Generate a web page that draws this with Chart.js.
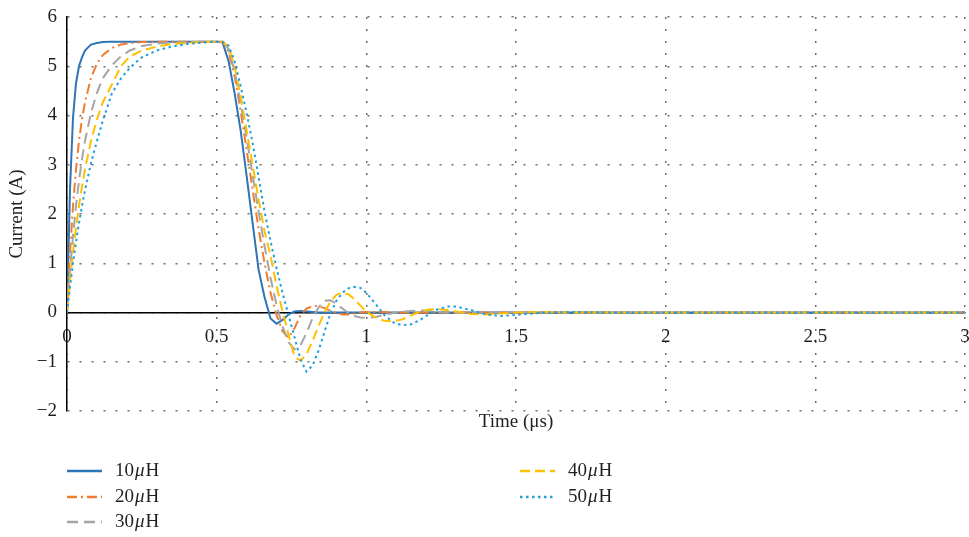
<!DOCTYPE html>
<html><head><meta charset="utf-8">
<script src="https://cdn.jsdelivr.net/npm/chart.js@4"></script>
<style>html,body{margin:0;padding:0;background:#fff;overflow:hidden}</style>
</head><body>
<canvas id="c" width="969" height="537"></canvas>
<script>
// time (µs)
const T = [0,0.01,0.02,0.03,0.04,0.05,0.06,0.08,0.10,0.12,0.15,0.18,0.21,0.25,0.30,0.35,0.40,0.45,0.50,
  0.52,0.54,0.56,0.58,0.60,0.62,0.64,0.66,0.68,0.70,0.72,0.74,0.76,0.78,0.80,0.82,0.84,0.86,0.88,0.90,0.92,0.94,0.96,0.98,1.00,
  1.03,1.06,1.09,1.12,1.15,1.18,1.21,1.24,1.27,1.30,1.35,1.40,1.45,1.50,1.60,1.70,1.80,2.00,2.50,3.00];
// current (A)
const L10 = [0,2.5,3.95,4.65,5.0,5.18,5.32,5.44,5.47,5.49,5.5,5.5,5.5,5.5,5.5,5.5,5.5,5.5,5.5,
  5.48,5.1,4.45,3.7,2.78,1.82,0.87,0.31,-0.12,-0.23,-0.15,-0.04,0.02,0.03,0.02,0.01,0,0,0,0,0,0,0,0,0,
  0,0,0,0,0,0,0,0,0,0,0,0,0,0,0,0,0,0,0,0];
const L20 = [0,1.22,2.16,2.9,3.48,3.92,4.27,4.76,5.05,5.23,5.37,5.44,5.47,5.49,5.5,5.5,5.5,5.5,5.5,
  5.5,5.3,4.8,4.1,3.3,2.5,1.7,1.0,0.4,-0.05,-0.38,-0.51,-0.32,-0.06,0.08,0.13,0.13,0.09,0.04,-0.01,-0.04,-0.04,-0.02,0,0.01,
  0.01,0.01,0,0,0,0,0,0,0,0,0,0,0,0,0,0,0,0,0,0];
const L30 = [0,0.84,1.56,2.16,2.68,3.11,3.48,4.05,4.46,4.76,5.02,5.2,5.32,5.41,5.46,5.48,5.49,5.5,5.5,
  5.5,5.35,4.9,4.25,3.55,2.8,2.05,1.35,0.7,0.15,-0.28,-0.6,-0.75,-0.66,-0.42,-0.12,0.1,0.24,0.25,0.18,0.08,-0.01,-0.07,-0.1,-0.11,
  -0.09,-0.05,-0.01,0.02,0.03,0.04,0.03,0.01,0,-0.01,-0.01,0,0,0,0,0,0,0,0,0];
const L40 = [0,0.65,1.22,1.72,2.16,2.56,2.9,3.48,3.92,4.27,4.63,5.0,5.2,5.32,5.4,5.45,5.47,5.49,5.5,
  5.5,5.4,5.0,4.4,3.7,3.0,2.3,1.65,1.15,0.55,0.02,-0.45,-0.9,-0.98,-0.85,-0.58,-0.28,0,0.22,0.36,0.4,0.37,0.27,0.14,0.02,
  -0.1,-0.17,-0.18,-0.14,-0.06,0.02,0.06,0.07,0.05,0.02,-0.03,-0.04,-0.02,0,0.01,0,0,0,0,0];
const L50 = [0,0.52,1.0,1.43,1.81,2.16,2.48,3.03,3.48,3.9,4.45,4.75,4.97,5.18,5.32,5.4,5.45,5.48,5.5,
  5.5,5.42,5.1,4.6,4.05,3.45,2.75,2.05,1.45,0.9,0.4,-0.05,-0.5,-0.95,-1.2,-1.08,-0.78,-0.4,-0.02,0.24,0.4,0.49,0.52,0.5,0.4,
  0.18,-0.05,-0.2,-0.26,-0.24,-0.15,-0.03,0.07,0.12,0.12,0.05,-0.04,-0.07,-0.05,0,0.01,0,0,0,0];
const seriesNames = ['10','20','30','40','50'];
const xTickValues = [0,0.5,1,1.5,2,2.5,3];
const yTickValues = [-2,-1,0,1,2,3,4,5,6];

const FONT = '"Liberation Serif", "Times New Roman", serif';
const TXT = '#231f20';
const styles = [
  {color:'#2e75b6', dash:[]},
  {color:'#ed7d31', dash:[10,4,2,4]},
  {color:'#a5a5a5', dash:[11,6]},
  {color:'#ffc000', dash:[10,5]},
  {color:'#1f9fdc', dash:[2.5,3.5]}
];
const series = [L10,L20,L30,L40,L50];
const datasets = series.map((vals,i)=>({
  label: seriesNames[i] + 'μH',
  data: vals.map((v,j)=>({x:T[j], y:v})),
  borderColor: styles[i].color,
  backgroundColor: styles[i].color,
  borderDash: styles[i].dash,
  borderWidth: 2,
  pointRadius: 0,
  fill: false,
  tension: 0,
  order: 5 - i
}));

const legendPlugin = {
  id: 'customLegend',
  afterDraw(chart) {
    const ctx = chart.ctx;
    const ca = chart.chartArea;
    const pos = [[0,0],[0,1],[0,2],[1,0],[1,1]];
    const colX = [ca.left, ca.left + 453];
    const rowY = [471, 497, 522];
    chart.data.datasets.forEach((ds,i)=>{
      const [c,r] = pos[i];
      const x0 = colX[c], y = rowY[r];
      ctx.save();
      ctx.strokeStyle = ds.borderColor;
      ctx.lineWidth = 2.5;
      ctx.setLineDash(ds.borderDash);
      ctx.beginPath(); ctx.moveTo(x0, y); ctx.lineTo(x0 + 35, y); ctx.stroke();
      ctx.setLineDash([]);
      ctx.fillStyle = TXT;
      ctx.textBaseline = 'middle';
      ctx.textAlign = 'left';
      let tx = x0 + 48;
      ctx.font = '19px ' + FONT;
      ctx.fillText(seriesNames[i], tx, y);
      tx += ctx.measureText(seriesNames[i]).width + 1;
      ctx.font = 'italic 19px ' + FONT;
      ctx.fillText('μ', tx, y);
      tx += ctx.measureText('μ').width + 1;
      ctx.font = '19px ' + FONT;
      ctx.fillText('H', tx, y);
      ctx.restore();
    });
  }
};

const noPad = s => { s.paddingLeft = 0; s.paddingRight = 0; s.paddingTop = 0; s.paddingBottom = 0; };

new Chart(document.getElementById('c'), {
  type: 'line',
  data: { datasets },
  plugins: [legendPlugin],
  options: {
    responsive: false,
    animation: false,
    devicePixelRatio: 1,
    layout: { padding: { top: 17, right: 4, left: 0, bottom: 0 } },
    plugins: { legend: { display: false }, tooltip: { enabled: false } },
    scales: {
      x: {
        type: 'linear', min: 0, max: 3,
        position: { y: 0 },
        afterBuildTicks: s => { s.ticks = xTickValues.map(v => ({ value: v })); },
        afterFit: noPad,
        ticks: { padding: 13, color: TXT, font: { family: FONT, size: 19 }, maxRotation: 0,
          callback: v => String(v) },
        grid: { color: '#6e6e6e', lineWidth: 1.5, drawTicks: false },
        border: { color: '#000', width: 1.5, dash: [2, 10] }
      },
      x2: {
        type: 'linear', min: 0, max: 3, position: 'bottom',
        ticks: { display: false },
        grid: { display: false, drawTicks: false },
        border: { display: false },
        title: { display: true, text: 'Time (μs)', color: TXT,
          font: { family: FONT, size: 19 }, padding: { top: 0, bottom: 104 } },
        afterFit: s => { noPad(s); s.height = 126; }
      },
      y: {
        type: 'linear', min: -2, max: 6, position: 'left',
        afterBuildTicks: s => { s.ticks = yTickValues.map(v => ({ value: v })); },
        ticks: { padding: 10, color: TXT, font: { family: FONT, size: 19 },
          callback: v => v < 0 ? '\u2212' + Math.abs(v) : String(v) },
        grid: { color: '#6e6e6e', lineWidth: 1.5, drawTicks: false },
        border: { color: '#000', width: 1.5, dash: [2, 10] },
        title: { display: true, text: 'Current (A)', color: TXT,
          font: { family: FONT, size: 19 }, padding: { top: 6, bottom: 0 } },
        afterFit: s => { noPad(s); s.width = 67; }
      }
    }
  }
});
</script>
</body></html>
